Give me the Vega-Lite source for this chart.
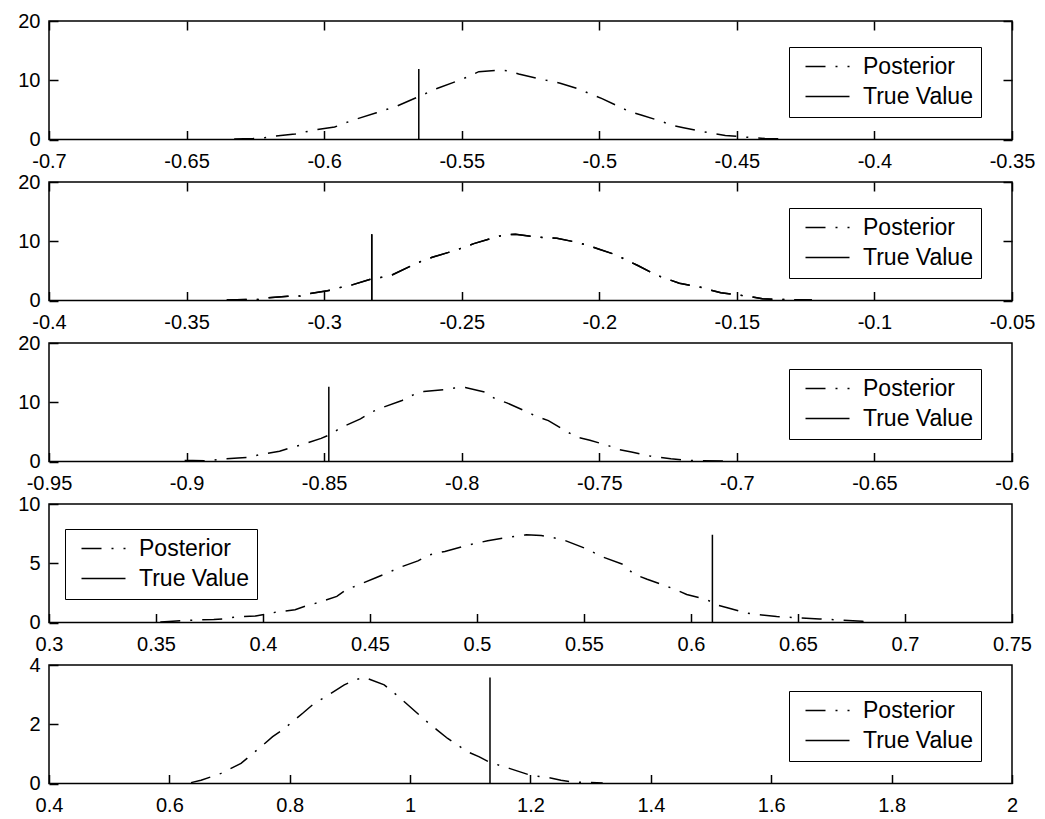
{
  "$schema": "https://vega.github.io/schema/vega-lite/v6.json",
  "padding": {"left": 17, "top": 10, "right": 0, "bottom": 0},
  "background": "white",
  "datasets": {
    "p1": [
      {"x": -0.6327, "y": 0.1, "series": "Posterior"}, {"x": -0.6258, "y": 0.17, "series": "Posterior"}, {"x": -0.6217, "y": 0.28, "series": "Posterior"}, {"x": -0.6182, "y": 0.57, "series": "Posterior"}, {"x": -0.6106, "y": 0.91, "series": "Posterior"}, {"x": -0.6072, "y": 1.25, "series": "Posterior"}, {"x": -0.6024, "y": 1.7, "series": "Posterior"}, {"x": -0.5962, "y": 2.1, "series": "Posterior"}, {"x": -0.592, "y": 2.84, "series": "Posterior"}, {"x": -0.5886, "y": 3.4, "series": "Posterior"}, {"x": -0.581, "y": 4.5, "series": "Posterior"}, {"x": -0.5771, "y": 5.1, "series": "Posterior"}, {"x": -0.5734, "y": 5.67, "series": "Posterior"}, {"x": -0.5658, "y": 7.2, "series": "Posterior"}, {"x": -0.5624, "y": 7.9, "series": "Posterior"}, {"x": -0.559, "y": 8.6, "series": "Posterior"}, {"x": -0.5514, "y": 9.9, "series": "Posterior"}, {"x": -0.5477, "y": 10.6, "series": "Posterior"}, {"x": -0.5438, "y": 11.45, "series": "Posterior"}, {"x": -0.5369, "y": 11.7, "series": "Posterior"}, {"x": -0.5328, "y": 11.6, "series": "Posterior"}, {"x": -0.5293, "y": 11.05, "series": "Posterior"}, {"x": -0.5224, "y": 10.3, "series": "Posterior"}, {"x": -0.5183, "y": 9.9, "series": "Posterior"}, {"x": -0.5142, "y": 9.5, "series": "Posterior"}, {"x": -0.5073, "y": 8.5, "series": "Posterior"}, {"x": -0.5031, "y": 7.65, "series": "Posterior"}, {"x": -0.499, "y": 6.9, "series": "Posterior"}, {"x": -0.4921, "y": 5.4, "series": "Posterior"}, {"x": -0.4887, "y": 4.65, "series": "Posterior"}, {"x": -0.4845, "y": 4.1, "series": "Posterior"}, {"x": -0.4777, "y": 3.1, "series": "Posterior"}, {"x": -0.4735, "y": 2.4, "series": "Posterior"}, {"x": -0.4694, "y": 2.0, "series": "Posterior"}, {"x": -0.4632, "y": 1.4, "series": "Posterior"}, {"x": -0.4584, "y": 1.0, "series": "Posterior"}, {"x": -0.4542, "y": 0.68, "series": "Posterior"}, {"x": -0.448, "y": 0.45, "series": "Posterior"}, {"x": -0.4439, "y": 0.28, "series": "Posterior"}, {"x": -0.4398, "y": 0.17, "series": "Posterior"}, {"x": -0.4342, "y": 0.1, "series": "Posterior"},
      {"x": -0.5656, "y": 0, "series": "True Value"}, {"x": -0.5656, "y": 11.9, "series": "True Value"}
    ],
    "p2": [
      {"x": -0.3354, "y": 0.1, "series": "Posterior"}, {"x": -0.328, "y": 0.17, "series": "Posterior"}, {"x": -0.3239, "y": 0.17, "series": "Posterior"}, {"x": -0.3203, "y": 0.47, "series": "Posterior"}, {"x": -0.3131, "y": 0.7, "series": "Posterior"}, {"x": -0.3088, "y": 0.75, "series": "Posterior"}, {"x": -0.3052, "y": 1.17, "series": "Posterior"}, {"x": -0.2988, "y": 1.63, "series": "Posterior"}, {"x": -0.2945, "y": 2.16, "series": "Posterior"}, {"x": -0.2901, "y": 2.6, "series": "Posterior"}, {"x": -0.283, "y": 3.6, "series": "Posterior"}, {"x": -0.2794, "y": 3.9, "series": "Posterior"}, {"x": -0.2758, "y": 4.2, "series": "Posterior"}, {"x": -0.2686, "y": 5.8, "series": "Posterior"}, {"x": -0.2643, "y": 6.7, "series": "Posterior"}, {"x": -0.2607, "y": 7.3, "series": "Posterior"}, {"x": -0.2535, "y": 8.3, "series": "Posterior"}, {"x": -0.2496, "y": 8.9, "series": "Posterior"}, {"x": -0.2456, "y": 9.6, "series": "Posterior"}, {"x": -0.2384, "y": 10.6, "series": "Posterior"}, {"x": -0.2344, "y": 11.1, "series": "Posterior"}, {"x": -0.2305, "y": 11.2, "series": "Posterior"}, {"x": -0.2241, "y": 10.8, "series": "Posterior"}, {"x": -0.2197, "y": 10.6, "series": "Posterior"}, {"x": -0.2154, "y": 10.5, "series": "Posterior"}, {"x": -0.209, "y": 9.9, "series": "Posterior"}, {"x": -0.2047, "y": 9.4, "series": "Posterior"}, {"x": -0.2003, "y": 8.7, "series": "Posterior"}, {"x": -0.1939, "y": 7.7, "series": "Posterior"}, {"x": -0.1896, "y": 6.7, "series": "Posterior"}, {"x": -0.186, "y": 5.9, "series": "Posterior"}, {"x": -0.1788, "y": 4.2, "series": "Posterior"}, {"x": -0.1745, "y": 3.5, "series": "Posterior"}, {"x": -0.1709, "y": 2.9, "series": "Posterior"}, {"x": -0.1637, "y": 2.3, "series": "Posterior"}, {"x": -0.1594, "y": 1.75, "series": "Posterior"}, {"x": -0.1558, "y": 1.3, "series": "Posterior"}, {"x": -0.1486, "y": 0.87, "series": "Posterior"}, {"x": -0.1443, "y": 0.58, "series": "Posterior"}, {"x": -0.1407, "y": 0.29, "series": "Posterior"}, {"x": -0.1335, "y": 0.17, "series": "Posterior"}, {"x": -0.1299, "y": 0.12, "series": "Posterior"}, {"x": -0.1227, "y": 0.1, "series": "Posterior"},
      {"x": -0.2827, "y": 0, "series": "True Value"}, {"x": -0.2827, "y": 11.2, "series": "True Value"}
    ],
    "p3": [
      {"x": -0.9007, "y": 0.17, "series": "Posterior"}, {"x": -0.8978, "y": 0.17, "series": "Posterior"}, {"x": -0.8921, "y": 0.12, "series": "Posterior"}, {"x": -0.8885, "y": 0.35, "series": "Posterior"}, {"x": -0.8813, "y": 0.58, "series": "Posterior"}, {"x": -0.8773, "y": 0.69, "series": "Posterior"}, {"x": -0.8734, "y": 1.16, "series": "Posterior"}, {"x": -0.8662, "y": 1.73, "series": "Posterior"}, {"x": -0.8623, "y": 2.3, "series": "Posterior"}, {"x": -0.8583, "y": 2.8, "series": "Posterior"}, {"x": -0.8511, "y": 3.9, "series": "Posterior"}, {"x": -0.8476, "y": 4.6, "series": "Posterior"}, {"x": -0.844, "y": 5.7, "series": "Posterior"}, {"x": -0.8368, "y": 7.2, "series": "Posterior"}, {"x": -0.8325, "y": 8.4, "series": "Posterior"}, {"x": -0.8289, "y": 9.1, "series": "Posterior"}, {"x": -0.8217, "y": 10.3, "series": "Posterior"}, {"x": -0.8174, "y": 11.3, "series": "Posterior"}, {"x": -0.8138, "y": 11.8, "series": "Posterior"}, {"x": -0.8066, "y": 12.1, "series": "Posterior"}, {"x": -0.8026, "y": 12.4, "series": "Posterior"}, {"x": -0.7987, "y": 12.5, "series": "Posterior"}, {"x": -0.7915, "y": 11.7, "series": "Posterior"}, {"x": -0.7876, "y": 10.5, "series": "Posterior"}, {"x": -0.7836, "y": 9.9, "series": "Posterior"}, {"x": -0.7764, "y": 8.4, "series": "Posterior"}, {"x": -0.7728, "y": 7.6, "series": "Posterior"}, {"x": -0.7685, "y": 6.9, "series": "Posterior"}, {"x": -0.7613, "y": 4.9, "series": "Posterior"}, {"x": -0.7577, "y": 4.05, "series": "Posterior"}, {"x": -0.7534, "y": 3.6, "series": "Posterior"}, {"x": -0.7462, "y": 2.6, "series": "Posterior"}, {"x": -0.7426, "y": 2.0, "series": "Posterior"}, {"x": -0.7383, "y": 1.6, "series": "Posterior"}, {"x": -0.7311, "y": 0.87, "series": "Posterior"}, {"x": -0.7276, "y": 0.69, "series": "Posterior"}, {"x": -0.724, "y": 0.46, "series": "Posterior"}, {"x": -0.7168, "y": 0.17, "series": "Posterior"}, {"x": -0.7125, "y": 0.12, "series": "Posterior"}, {"x": -0.7046, "y": 0.1, "series": "Posterior"},
      {"x": -0.8483, "y": 0, "series": "True Value"}, {"x": -0.8483, "y": 12.6, "series": "True Value"}
    ],
    "p4": [
      {"x": 0.352, "y": 0.05, "series": "Posterior"}, {"x": 0.356, "y": 0.09, "series": "Posterior"}, {"x": 0.367, "y": 0.2, "series": "Posterior"}, {"x": 0.377, "y": 0.25, "series": "Posterior"}, {"x": 0.381, "y": 0.3, "series": "Posterior"}, {"x": 0.3864, "y": 0.45, "series": "Posterior"}, {"x": 0.3966, "y": 0.55, "series": "Posterior"}, {"x": 0.4058, "y": 0.86, "series": "Posterior"}, {"x": 0.415, "y": 1.08, "series": "Posterior"}, {"x": 0.4197, "y": 1.37, "series": "Posterior"}, {"x": 0.4252, "y": 1.65, "series": "Posterior"}, {"x": 0.4345, "y": 2.2, "series": "Posterior"}, {"x": 0.4391, "y": 2.8, "series": "Posterior"}, {"x": 0.4437, "y": 3.1, "series": "Posterior"}, {"x": 0.453, "y": 3.8, "series": "Posterior"}, {"x": 0.4585, "y": 4.2, "series": "Posterior"}, {"x": 0.4631, "y": 4.6, "series": "Posterior"}, {"x": 0.4724, "y": 5.2, "series": "Posterior"}, {"x": 0.4775, "y": 5.7, "series": "Posterior"}, {"x": 0.485, "y": 6.0, "series": "Posterior"}, {"x": 0.495, "y": 6.5, "series": "Posterior"}, {"x": 0.505, "y": 6.9, "series": "Posterior"}, {"x": 0.515, "y": 7.2, "series": "Posterior"}, {"x": 0.523, "y": 7.4, "series": "Posterior"}, {"x": 0.53, "y": 7.35, "series": "Posterior"}, {"x": 0.54, "y": 7.0, "series": "Posterior"}, {"x": 0.55, "y": 6.3, "series": "Posterior"}, {"x": 0.5592, "y": 5.5, "series": "Posterior"}, {"x": 0.5684, "y": 4.9, "series": "Posterior"}, {"x": 0.5731, "y": 4.1, "series": "Posterior"}, {"x": 0.5795, "y": 3.65, "series": "Posterior"}, {"x": 0.5879, "y": 3.1, "series": "Posterior"}, {"x": 0.5925, "y": 2.8, "series": "Posterior"}, {"x": 0.598, "y": 2.37, "series": "Posterior"}, {"x": 0.6073, "y": 1.94, "series": "Posterior"}, {"x": 0.6119, "y": 1.5, "series": "Posterior"}, {"x": 0.6174, "y": 1.23, "series": "Posterior"}, {"x": 0.6257, "y": 0.8, "series": "Posterior"}, {"x": 0.6313, "y": 0.66, "series": "Posterior"}, {"x": 0.64, "y": 0.5, "series": "Posterior"}, {"x": 0.65, "y": 0.4, "series": "Posterior"}, {"x": 0.66, "y": 0.3, "series": "Posterior"}, {"x": 0.67, "y": 0.2, "series": "Posterior"}, {"x": 0.68, "y": 0.1, "series": "Posterior"}, {"x": 0.684, "y": 0.05, "series": "Posterior"},
      {"x": 0.61, "y": 0, "series": "True Value"}, {"x": 0.61, "y": 7.4, "series": "True Value"}
    ],
    "p5": [
      {"x": 0.636, "y": 0.03, "series": "Posterior"}, {"x": 0.6526, "y": 0.11, "series": "Posterior"}, {"x": 0.6858, "y": 0.34, "series": "Posterior"}, {"x": 0.7024, "y": 0.51, "series": "Posterior"}, {"x": 0.719, "y": 0.68, "series": "Posterior"}, {"x": 0.7522, "y": 1.24, "series": "Posterior"}, {"x": 0.7716, "y": 1.58, "series": "Posterior"}, {"x": 0.7882, "y": 1.81, "series": "Posterior"}, {"x": 0.8215, "y": 2.37, "series": "Posterior"}, {"x": 0.8408, "y": 2.71, "series": "Posterior"}, {"x": 0.8574, "y": 2.9, "series": "Posterior"}, {"x": 0.8906, "y": 3.33, "series": "Posterior"}, {"x": 0.9084, "y": 3.5, "series": "Posterior"}, {"x": 0.924, "y": 3.58, "series": "Posterior"}, {"x": 0.957, "y": 3.33, "series": "Posterior"}, {"x": 0.9767, "y": 3.0, "series": "Posterior"}, {"x": 0.9932, "y": 2.71, "series": "Posterior"}, {"x": 1.0265, "y": 2.11, "series": "Posterior"}, {"x": 1.0446, "y": 1.81, "series": "Posterior"}, {"x": 1.0624, "y": 1.52, "series": "Posterior"}, {"x": 1.0956, "y": 1.07, "series": "Posterior"}, {"x": 1.115, "y": 0.9, "series": "Posterior"}, {"x": 1.1316, "y": 0.72, "series": "Posterior"}, {"x": 1.1648, "y": 0.51, "series": "Posterior"}, {"x": 1.1814, "y": 0.4, "series": "Posterior"}, {"x": 1.201, "y": 0.27, "series": "Posterior"}, {"x": 1.231, "y": 0.2, "series": "Posterior"}, {"x": 1.2506, "y": 0.11, "series": "Posterior"}, {"x": 1.27, "y": 0.05, "series": "Posterior"}, {"x": 1.3, "y": 0.03, "series": "Posterior"}, {"x": 1.32, "y": 0.02, "series": "Posterior"},
      {"x": 1.1327, "y": 0, "series": "True Value"}, {"x": 1.1327, "y": 3.58, "series": "True Value"}
    ]
  },
  "vconcat": [
    {
      "width": 963, "height": 118.5,
      "data": {"name": "p1"},
      "layer": [
        {"mark": {"type": "line", "color": "black", "strokeWidth": 1.5},
         "encoding": {
           "x": {"field": "x", "type": "quantitative", "title": null, "scale": {"domain": [-0.7, -0.35], "nice": false, "zero": false}, "axis": {"orient": "bottom", "values": [-0.7, -0.65, -0.6, -0.55, -0.5, -0.45, -0.4, -0.35], "format": ".2~f"}},
           "y": {"field": "y", "type": "quantitative", "title": null, "scale": {"domain": [0, 20], "nice": false}, "axis": {"orient": "left", "values": [0, 10, 20]}},
           "strokeDash": {"field": "series", "type": "nominal", "scale": {"domain": ["Posterior", "True Value"], "range": [[20, 10, 2, 10], [1, 0]]}, "legend": {"orient": "none", "legendX": 740, "legendY": 26}}
         }},
        {"mark": {"type": "point", "size": 1, "fillOpacity": 0, "strokeOpacity": 0},
         "encoding": {
           "x": {"field": "x", "type": "quantitative", "title": null, "scale": {"domain": [-0.7, -0.35], "nice": false, "zero": false}, "axis": {"orient": "top", "labels": false, "values": [-0.7, -0.65, -0.6, -0.55, -0.5, -0.45, -0.4, -0.35]}},
           "y": {"field": "y", "type": "quantitative", "title": null, "scale": {"domain": [0, 20], "nice": false}, "axis": {"orient": "right", "labels": false, "values": [0, 10, 20]}}
         }}
      ],
      "resolve": {"axis": {"x": "independent", "y": "independent"}}
    },
    {
      "width": 963, "height": 118.5,
      "data": {"name": "p2"},
      "layer": [
        {"mark": {"type": "line", "color": "black", "strokeWidth": 1.5},
         "encoding": {
           "x": {"field": "x", "type": "quantitative", "title": null, "scale": {"domain": [-0.4, -0.05], "nice": false, "zero": false}, "axis": {"orient": "bottom", "values": [-0.4, -0.35, -0.3, -0.25, -0.2, -0.15, -0.1, -0.05], "format": ".2~f"}},
           "y": {"field": "y", "type": "quantitative", "title": null, "scale": {"domain": [0, 20], "nice": false}, "axis": {"orient": "left", "values": [0, 10, 20]}},
           "strokeDash": {"field": "series", "type": "nominal", "scale": {"domain": ["Posterior", "True Value"], "range": [[20, 10, 2, 10], [1, 0]]}, "legend": {"orient": "none", "legendX": 740, "legendY": 26}}
         }},
        {"mark": {"type": "line", "color": "black", "strokeWidth": 1.5},
         "encoding": {
           "x": {"field": "x", "type": "quantitative", "title": null, "scale": {"domain": [-0.4, -0.05], "nice": false, "zero": false}, "axis": {"orient": "top", "labels": false, "values": [-0.4, -0.35, -0.3, -0.25, -0.2, -0.15, -0.1, -0.05]}},
           "y": {"field": "y", "type": "quantitative", "title": null, "scale": {"domain": [0, 20], "nice": false}, "axis": {"orient": "right", "labels": false, "values": [0, 10, 20]}},
           "strokeDash": {"field": "series", "type": "nominal", "scale": {"domain": ["Posterior", "True Value"], "range": [[20, 10, 2, 10], [1, 0]]}}
         }}
      ],
      "resolve": {"axis": {"x": "independent", "y": "independent"}}
    },
    {
      "width": 963, "height": 118.5,
      "data": {"name": "p3"},
      "mark": {"type": "line", "color": "black", "strokeWidth": 1.5},
      "encoding": {
        "x": {"field": "x", "type": "quantitative", "title": null, "scale": {"domain": [-0.95, -0.6], "nice": false, "zero": false}, "axis": {"orient": "bottom", "values": [-0.95, -0.9, -0.85, -0.8, -0.75, -0.7, -0.65, -0.6], "format": ".2~f"}},
        "y": {"field": "y", "type": "quantitative", "title": null, "scale": {"domain": [0, 20], "nice": false}, "axis": {"orient": "left", "values": [0, 10, 20]}},
        "strokeDash": {"field": "series", "type": "nominal", "scale": {"domain": ["Posterior", "True Value"], "range": [[20, 10, 2, 10], [1, 0]]}, "legend": {"orient": "none", "legendX": 740, "legendY": 26}}
      }
    },
    {
      "width": 963, "height": 118.5,
      "data": {"name": "p4"},
      "mark": {"type": "line", "color": "black", "strokeWidth": 1.5},
      "encoding": {
        "x": {"field": "x", "type": "quantitative", "title": null, "scale": {"domain": [0.3, 0.75], "nice": false, "zero": false}, "axis": {"orient": "bottom", "values": [0.3, 0.35, 0.4, 0.45, 0.5, 0.55, 0.6, 0.65, 0.7, 0.75], "format": ".2~f"}},
        "y": {"field": "y", "type": "quantitative", "title": null, "scale": {"domain": [0, 10], "nice": false}, "axis": {"orient": "left", "values": [0, 5, 10]}},
        "strokeDash": {"field": "series", "type": "nominal", "scale": {"domain": ["Posterior", "True Value"], "range": [[20, 10, 2, 10], [1, 0]]}, "legend": {"orient": "none", "legendX": 16, "legendY": 25}}
      }
    },
    {
      "width": 963, "height": 118.5,
      "data": {"name": "p5"},
      "mark": {"type": "line", "color": "black", "strokeWidth": 1.5},
      "encoding": {
        "x": {"field": "x", "type": "quantitative", "title": null, "scale": {"domain": [0.4, 2], "nice": false, "zero": false}, "axis": {"orient": "bottom", "values": [0.4, 0.6, 0.8, 1, 1.2, 1.4, 1.6, 1.8, 2], "format": ".1~f"}},
        "y": {"field": "y", "type": "quantitative", "title": null, "scale": {"domain": [0, 4], "nice": false}, "axis": {"orient": "left", "values": [0, 2, 4]}},
        "strokeDash": {"field": "series", "type": "nominal", "scale": {"domain": ["Posterior", "True Value"], "range": [[20, 10, 2, 10], [1, 0]]}, "legend": {"orient": "none", "legendX": 740, "legendY": 26}}
      }
    }
  ],
  "resolve": {"scale": {"strokeDash": "independent"}, "legend": {"strokeDash": "independent"}},
  "spacing": 42,
  "bounds": "flush",
  "config": {
    "view": {"stroke": "black", "strokeWidth": 1.5},
    "axis": {"grid": false, "ticks": true, "domain": false, "offset": -9, "zindex": 1, "tickColor": "black", "tickWidth": 1.5, "tickSize": 9, "labelColor": "black", "labelFont": "Liberation Sans", "labelFontSize": 20, "labelFlush": false, "labelOverlap": false, "labelBound": false, "labelExpr": "replace(datum.label, '\u2212', '-')"},
    "axisBottom": {"labelPadding": 12},
    "axisLeft": {"labelPadding": 9},
    "legend": {"title": null, "symbolType": "M-2.2,0H2.2", "symbolSize": 400, "symbolStrokeWidth": 1.5, "symbolStrokeColor": "black", "labelFont": "Liberation Sans", "labelFontSize": 23, "labelColor": "black", "labelLimit": 400, "strokeColor": "black", "fillColor": "white", "padding": 8, "rowPadding": 6, "labelOffset": 24, "symbolOffset": 19}
  }
}
